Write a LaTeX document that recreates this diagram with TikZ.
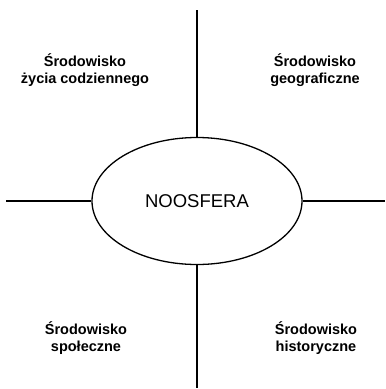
\documentclass[tikz,border=0pt]{standalone}
\usepackage{fontspec}
\setmainfont{Liberation Sans}
\usetikzlibrary{shapes}
\tikzset{%
	core/.style 	= {draw, ellipse, minimum width = 210pt, minimum height = 127pt, inner sep = 0pt, font = \fontsize{18.5}{22}\selectfont}, % NOOSFERA
	area/.style 	= {align = center, font = \bfseries\fontsize{14.5}{17}\selectfont}, % Srodowisko
	edge/.style 	= {coordinate} % loose end
}

\begin{document}
\begin{tikzpicture}[x = 1pt, y = -1pt, line width = 1.3pt]
	\useasboundingbox (0,0) rectangle (386,389);
	\draw % Drawing the centre and the axes' ends
	node at (197, 201) [core] (noos) {NOOSFERA}
	node at (197, 10) [edge] (top) {}
	node at (197, 388) [edge] (bottom) {}
	node at (6, 201) [edge] (left) {}
	node at (385, 201) [edge] (right) {}
	node at (85, 70) [area] (daily) {Środowisko\\życia codziennego}
	node at (315, 70) [area] (geo) {Środowisko\\geograficzne}
	node at (86, 338) [area] (social) {Środowisko\\społeczne}
	node at (316, 338) [area] (hist) {Środowisko\\historyczne}
	;

	% Drawing the axes
	\draw (top) -- (noos);
	\draw (noos) -- (bottom);
	\draw (left) -- (noos);
	\draw (noos) -- (right);
\end{tikzpicture}
\end{document}
